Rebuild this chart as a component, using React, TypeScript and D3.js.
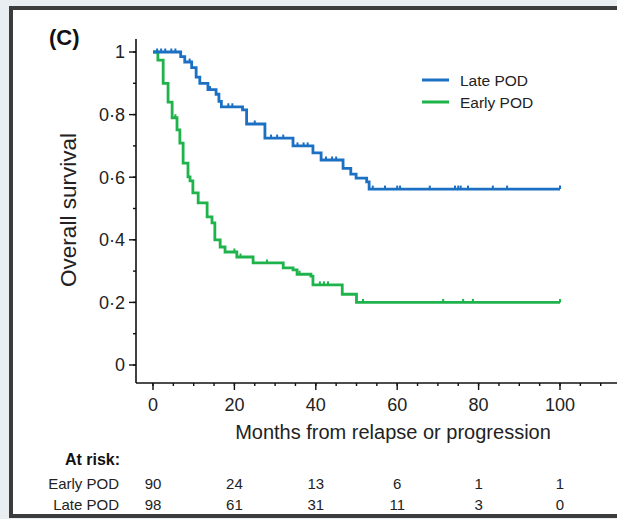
import React from "react";
import * as d3 from "d3";

const W = 617;
const H = 519;

// Kaplan–Meier steps: [month, survival]
const lateSteps: [number, number][] = [
  [0, 1.0], [6.8, 0.985], [7.8, 0.968], [9.5, 0.95], [10.6, 0.92], [11.5, 0.9], [13.5, 0.88],
  [15.5, 0.865], [16.2, 0.842], [16.8, 0.825], [22, 0.815], [23, 0.77],
  [27.5, 0.725], [34.4, 0.7], [39.3, 0.678], [41.3, 0.655], [46.7, 0.628],
  [48.6, 0.61], [49.9, 0.597], [52.5, 0.585], [53.1, 0.562],
];
const lateEnd = 100;
const lateCensors: number[] = [
  1, 2, 3, 4.5, 5.5, 9, 14, 18.5, 19.5, 25, 29, 30.5, 32, 35.5, 37, 38, 42.5, 44, 45,
  54, 57, 60, 60.7, 68, 74.2, 75, 75.6, 77.4, 83.5, 87, 100,
];

const earlySteps: [number, number][] = [
  [0, 1.0], [1.2, 0.974], [2.5, 0.9], [3.7, 0.84], [4.7, 0.79], [5.9, 0.751],
  [6.6, 0.709], [7.4, 0.645], [8.6, 0.601], [9.1, 0.588], [9.8, 0.55],
  [11.1, 0.518], [13.3, 0.473], [14.5, 0.454], [15.2, 0.4], [16.5, 0.377],
  [17.7, 0.361], [20.6, 0.345], [24.6, 0.326], [32, 0.31], [34.4, 0.304],
  [35.4, 0.29], [38.8, 0.284], [39.3, 0.256], [46.5, 0.226], [50, 0.2],
];
const earlyEnd = 100;
const earlyCensors: number[] = [5.5, 20, 21.5, 28, 36, 41, 42, 43, 51.6, 71.3, 76.2, 78.6, 100];

const xTicks = [0, 20, 40, 60, 80, 100];
const yTicks = [0, 0.2, 0.4, 0.6, 0.8, 1];
const yTickLabels = ["0", "0·2", "0·4", "0·6", "0·8", "1"];

const riskGroups = ["Early POD", "Late POD"];
const riskEarly = [90, 24, 13, 6, 1, 1];
const riskLate = [98, 61, 31, 11, 3, 0];

const BLUE = "#1b70c4";
const GREEN = "#1fb34b";
const FONT = "'Liberation Sans', Arial, sans-serif";

function stepPath(steps: [number, number][], end: number, x: d3.ScaleLinear<number, number>, y: d3.ScaleLinear<number, number>) {
  const pts: [number, number][] = [...steps, [end, steps[steps.length - 1][1]]];
  const line = d3.line<[number, number]>().x((d) => x(d[0])).y((d) => y(d[1])).curve(d3.curveStepAfter);
  return line(pts) || "";
}

function survAt(steps: [number, number][], t: number) {
  let s = steps[0][1];
  for (const [tt, ss] of steps) if (tt <= t) s = ss;
  return s;
}

export default function App() {
  const x = d3.scaleLinear().domain([0, 100]).range([153, 560]);
  const y = d3.scaleLinear().domain([0, 1]).range([365, 52]);
  const axisX0 = 136;
  const axisY0 = 383;

  const xMinor = d3.range(0, 116, 5);
  const yMinor = d3.range(0, 1.01, 0.1);

  return (
    <div style={{ position: "fixed", left: 0, top: 0, width: W, height: H, background: "#e9eef3" }}>
      <svg width={W} height={H} style={{ display: "block" }} fontFamily={FONT}>
        <rect x={0} y={0} width={W} height={H} fill="#e9eef3" />
        <rect x={11} y={8} width={W + 20} height={508} fill="#ffffff" stroke="#3c3c3c" strokeWidth={4} />

        <text x={49} y={45} fontSize={22} fontWeight="bold" fill="#111">(C)</text>

        {/* y axis */}
        <line x1={axisX0} x2={axisX0} y1={39} y2={axisY0} stroke="#111" strokeWidth={1.6} />
        {yMinor.map((v, i) => (
          <line key={"ym" + i} x1={axisX0 - 3} x2={axisX0} y1={y(v)} y2={y(v)} stroke="#111" strokeWidth={1.4} />
        ))}
        {yTicks.map((v, i) => (
          <g key={"yt" + i}>
            <line x1={axisX0 - 7} x2={axisX0} y1={y(v)} y2={y(v)} stroke="#111" strokeWidth={1.4} />
            <text x={125} y={y(v)} dy="0.36em" textAnchor="end" fontSize={18} fill="#222">{yTickLabels[i]}</text>
          </g>
        ))}
        <text transform={`translate(68,210) rotate(-90)`} textAnchor="middle" fontSize={22.5} fill="#222" dy="0.35em">Overall survival</text>

        {/* x axis */}
        <line x1={axisX0} x2={W + 5} y1={axisY0} y2={axisY0} stroke="#111" strokeWidth={1.6} />
        {xMinor.map((v, i) => (
          <line key={"xm" + i} x1={x(v)} x2={x(v)} y1={axisY0} y2={axisY0 + 3} stroke="#111" strokeWidth={1.4} />
        ))}
        {xTicks.map((v, i) => (
          <g key={"xt" + i}>
            <line x1={x(v)} x2={x(v)} y1={axisY0} y2={axisY0 + 7} stroke="#111" strokeWidth={1.4} />
            <text x={x(v)} y={405} dy="0.36em" textAnchor="middle" fontSize={18} fill="#222">{v}</text>
          </g>
        ))}
        <text x={393} y={432} dy="0.36em" textAnchor="middle" fontSize={20} fill="#222">Months from relapse or progression</text>

        {/* curves */}
        <path d={stepPath(earlySteps, earlyEnd, x, y)} fill="none" stroke={GREEN} strokeWidth={2.8} />
        {earlyCensors.map((t, i) => (
          <line key={"ec" + i} x1={x(t)} x2={x(t)} y1={y(survAt(earlySteps, t))} y2={y(survAt(earlySteps, t)) - 3.5} stroke={GREEN} strokeWidth={2} />
        ))}
        <path d={stepPath(lateSteps, lateEnd, x, y)} fill="none" stroke={BLUE} strokeWidth={2.8} />
        {lateCensors.map((t, i) => (
          <line key={"lc" + i} x1={x(t)} x2={x(t)} y1={y(survAt(lateSteps, t))} y2={y(survAt(lateSteps, t)) - 3.5} stroke={BLUE} strokeWidth={2} />
        ))}

        {/* legend */}
        <line x1={422} x2={449} y1={80} y2={80} stroke={BLUE} strokeWidth={3} />
        <text x={460} y={80} dy="0.36em" fontSize={15.5} fill="#222">Late POD</text>
        <line x1={422} x2={449} y1={102} y2={102} stroke={GREEN} strokeWidth={3} />
        <text x={460} y={102} dy="0.36em" fontSize={15.5} fill="#222">Early POD</text>

        {/* at risk */}
        <text x={120} y={459} dy="0.36em" textAnchor="end" fontSize={16} fontWeight="bold" fill="#111">At risk:</text>
        {riskGroups.map((g, gi) => {
          const yy = gi === 0 ? 484 : 505;
          const vals = gi === 0 ? riskEarly : riskLate;
          return (
            <g key={g}>
              <text x={119} y={yy} dy="0.36em" textAnchor="end" fontSize={15} fill="#222">{g}</text>
              {vals.map((v, i) => (
                <text key={i} x={x(xTicks[i])} y={yy} dy="0.36em" textAnchor="middle" fontSize={15} fill="#222">{v}</text>
              ))}
            </g>
          );
        })}
      </svg>
    </div>
  );
}
